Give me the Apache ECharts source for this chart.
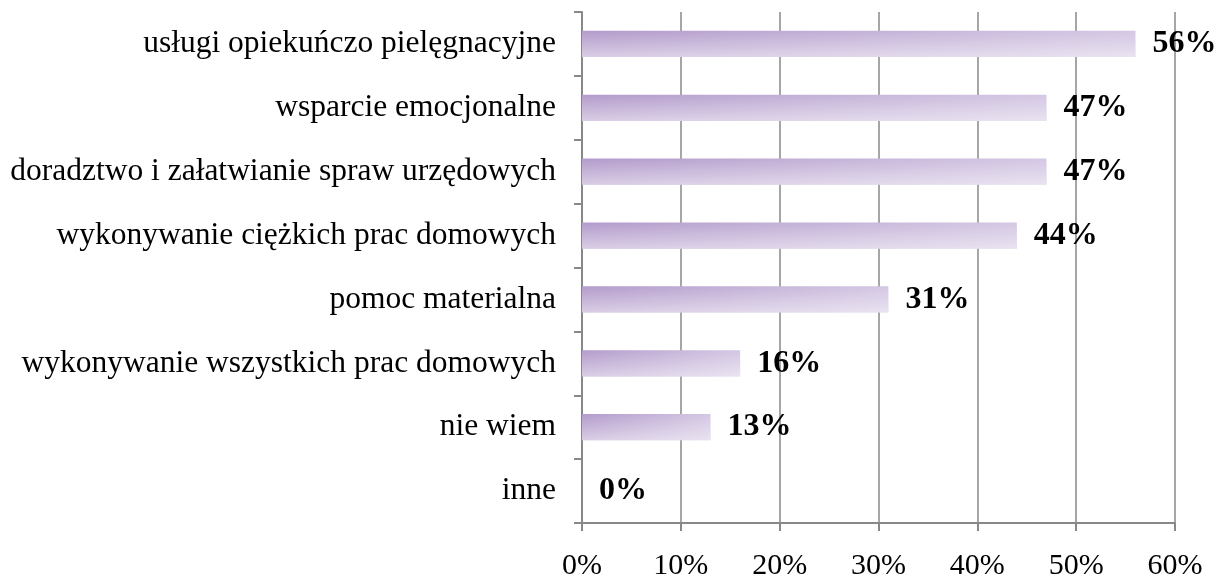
<!DOCTYPE html>
<html>
<head>
<meta charset="utf-8">
<script src="https://cdn.jsdelivr.net/npm/echarts@6/dist/echarts.min.js"></script>
<style>
  html, body { margin: 0; padding: 0; background: #ffffff; }
  #chart { width: 1217px; height: 574px; }
</style>
</head>
<body>
<div id="chart"></div>
<script>
// Forms of support, share of answers (%)
const categories = [
  'usługi opiekuńczo pielęgnacyjne',
  'wsparcie emocjonalne',
  'doradztwo i załatwianie spraw urzędowych',
  'wykonywanie ciężkich prac domowych',
  'pomoc materialna',
  'wykonywanie wszystkich prac domowych',
  'nie wiem',
  'inne'
];
const shares = [56, 47, 47, 44, 31, 16, 13, 0];
const axisMax = 60;
const axisStep = 10;

const FONT = '"Liberation Serif", "DejaVu Serif", serif';
const GREY = '#888888';

const chart = echarts.init(document.getElementById('chart'), null, { renderer: 'canvas' });

chart.setOption({
  animation: false,
  backgroundColor: '#ffffff',
  grid: {
    left: 582, right: 42, top: 12, bottom: 51,
    containLabel: false,
    outerBoundsMode: 'none'
  },
  xAxis: {
    type: 'value',
    min: 0,
    max: axisMax,
    interval: axisStep,
    axisLine: { show: true, lineStyle: { color: GREY, width: 2 } },
    axisTick: { show: true, length: 8, lineStyle: { color: GREY, width: 2 } },
    splitLine: { show: true, lineStyle: { color: GREY, width: 1.5 } },
    axisLabel: {
      margin: 28,
      color: '#000000',
      fontFamily: FONT,
      fontSize: 30,
      formatter: v => v + '%'
    }
  },
  yAxis: {
    type: 'category',
    data: categories,
    inverse: true,
    axisLine: { show: true, lineStyle: { color: GREY, width: 2 } },
    axisTick: { show: true, length: 8, lineStyle: { color: GREY, width: 2 } },
    splitLine: { show: false },
    axisLabel: {
      margin: 26,
      color: '#000000',
      fontFamily: FONT,
      fontSize: 31.5
    }
  },
  series: [
    {
      // bar body: purple fading to the right
      type: 'bar',
      data: shares,
      barCategoryGap: '59%',
      itemStyle: {
        color: {
          type: 'linear',
          x: 0, y: 0, x2: 1, y2: 0,
          colorStops: [
            { offset: 0, color: '#b39bcb' },
            { offset: 1, color: '#d4c7e3' }
          ]
        }
      },
      label: {
        show: true,
        position: 'right',
        distance: 17,
        color: '#000000',
        fontFamily: FONT,
        fontWeight: 'bold',
        fontSize: 32,
        formatter: p => p.value + '%'
      },
      z: 2
    },
    {
      // soft light sheen towards the bottom edge of each bar
      type: 'bar',
      data: shares,
      barGap: '-100%',
      barCategoryGap: '59%',
      silent: true,
      itemStyle: {
        color: {
          type: 'linear',
          x: 0, y: 0, x2: 0, y2: 1,
          colorStops: [
            { offset: 0, color: 'rgba(255,255,255,0)' },
            { offset: 1, color: 'rgba(255,255,255,0.5)' }
          ]
        }
      },
      label: { show: false },
      z: 3
    }
  ]
});
</script>
</body>
</html>
